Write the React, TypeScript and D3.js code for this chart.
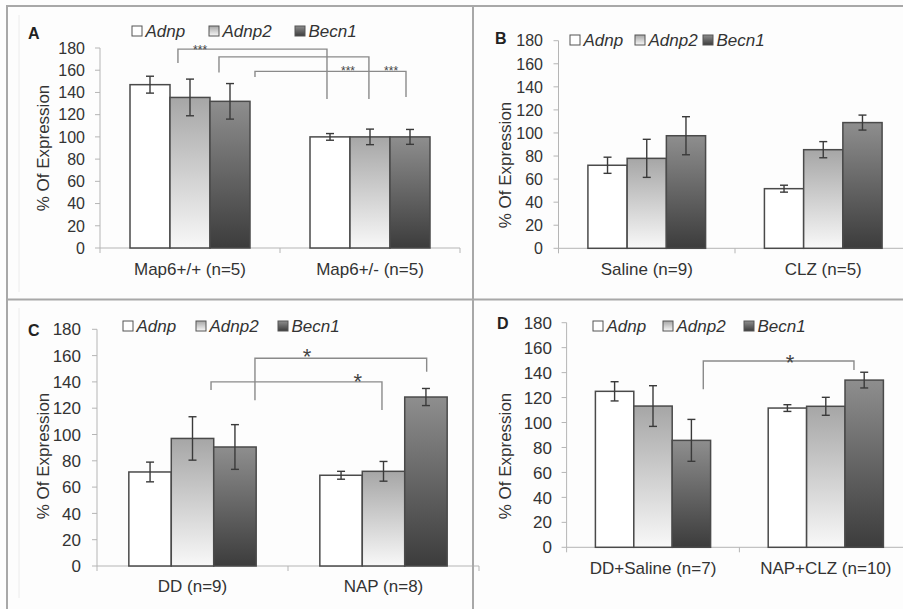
import React from "react";
import * as d3 from "d3";

const SERIES = ["Adnp", "Adnp2", "Becn1"];
const Y_TICKS = [0, 20, 40, 60, 80, 100, 120, 140, 160, 180];

const CATS_A = ["Map6+/+ (n=5)", "Map6+/- (n=5)"];
const MEANS_A = [[147, 135.5, 132], [100, 100, 100]];
const ERRS_A = [[7.6, 16.5, 16], [3, 7, 6.7]];

const CATS_B = ["Saline (n=9)", "CLZ (n=5)"];
const MEANS_B = [[72, 78, 97.6], [51.7, 85.5, 109]];
const ERRS_B = [[7, 16.5, 16.5], [3, 7, 6.5]];

const CATS_C = ["DD (n=9)", "NAP (n=8)"];
const MEANS_C = [[71.5, 97, 90.5], [69, 72, 128.5]];
const ERRS_C = [[7.5, 16.5, 17], [3, 7.5, 6.5]];

const CATS_D = ["DD+Saline (n=7)", "NAP+CLZ (n=10)"];
const MEANS_D = [[125, 113.2, 85.7], [111.6, 113, 134]];
const ERRS_D = [[7.7, 16.3, 16.8], [2.7, 7.2, 6.3]];

// significance brackets: x in category units (0..2), y in % units
const BRACKETS_A = [
  { x1: 0.433, x2: 1.261, top: 179, b1: 166.5, b2: 134 },
  { x1: 0.661, x2: 1.494, top: 172, b1: 158, b2: 134 },
  { x1: 0.861, x2: 1.7, top: 159, b1: 154, b2: 136 },
];
const STARS_A = [
  { x: 0.556, y: 180.5, t: "***" },
  { x: 1.378, y: 161.5, t: "***" },
  { x: 1.617, y: 161.5, t: "***" },
];
const BRACKETS_B: any[] = [];
const STARS_B: any[] = [];
const BRACKETS_C = [
  { x1: 0.827, x2: 1.726, top: 158, b1: 126, b2: 147.8 },
  { x1: 0.597, x2: 1.492, top: 140, b1: 133.8, b2: 118.6 },
];
const STARS_C = [
  { x: 1.1, y: 163, t: "*" },
  { x: 1.366, y: 144.5, t: "*" },
];
const BRACKETS_D = [{ x1: 0.791, x2: 1.663, top: 149.3, b1: 126.6, b2: 142 }];
const STARS_D = [{ x: 1.293, y: 152, t: "*" }];

const FILLS = ["#ffffff", "url(#gAdnp2)", "url(#gBecn1)"];
const TXT = "#333333";
const FONT = "Liberation Sans, Arial, sans-serif";

type Layout = {
  label: string;
  labelX: number;
  labelY: number;
  x0: number;
  catW: number;
  yBottom: number;
  yTop: number;
  tickRight: number;
  tickFont: number;
  titleX: number;
  titleY: number;
  legendY: number;
  legendX: number[];
  catBaseline: number;
  starBig: number;
};

const PANELS = [
  {
    cats: CATS_A, means: MEANS_A, errs: ERRS_A, brackets: BRACKETS_A, stars: STARS_A,
    layout: { label: "A", labelX: 28, labelY: 39, x0: 100, catW: 180, yBottom: 248, yTop: 48, tickRight: 85, tickFont: 16, titleX: 43, titleY: 148, legendY: 31, legendX: [132, 209, 295], catBaseline: 275, starBig: 13 } as Layout,
  },
  {
    cats: CATS_B, means: MEANS_B, errs: ERRS_B, brackets: BRACKETS_B, stars: STARS_B,
    layout: { label: "B", labelX: 495, labelY: 44, x0: 558.5, catW: 176.5, yBottom: 248.3, yTop: 40.7, tickRight: 543, tickFont: 16, titleX: 505, titleY: 165, legendY: 40, legendX: [570, 635, 703], catBaseline: 275, starBig: 22 } as Layout,
  },
  {
    cats: CATS_C, means: MEANS_C, errs: ERRS_C, brackets: BRACKETS_C, stars: STARS_C,
    layout: { label: "C", labelX: 28, labelY: 336, x0: 97, catW: 191, yBottom: 566, yTop: 329.3, tickRight: 81, tickFont: 17, titleX: 43, titleY: 456, legendY: 326, legendX: [123, 196, 278], catBaseline: 592, starBig: 22 } as Layout,
  },
  {
    cats: CATS_D, means: MEANS_D, errs: ERRS_D, brackets: BRACKETS_D, stars: STARS_D,
    layout: { label: "D", labelX: 497, labelY: 329, x0: 566.6, catW: 172.8, yBottom: 547.3, yTop: 322.7, tickRight: 552, tickFont: 17, titleX: 505, titleY: 456, legendY: 326, legendX: [593, 663, 744], catBaseline: 574, starBig: 22 } as Layout,
  },
];

function Panel({ cats, means, errs, brackets, stars, layout }: any) {
  const L: Layout = layout;
  const xEnd = L.x0 + 2 * L.catW;
  const y = d3.scaleLinear().domain([0, 180]).range([L.yBottom, L.yTop]);
  const xc = d3.scaleLinear().domain([0, 2]).range([L.x0, xEnd]);
  const xBand = d3.scaleBand<string>().domain(cats).range([L.x0, xEnd]).paddingInner(1 / 3).paddingOuter(1 / 6);
  const xSer = d3.scaleBand<string>().domain(SERIES).range([0, xBand.bandwidth()]).padding(0);
  const axisColor = "#b5b5b5";
  const bw = xSer.bandwidth();
  return (
    <g fontFamily={FONT}>
      <line x1={L.x0} x2={L.x0} y1={y(0)} y2={y(180)} stroke={axisColor} strokeWidth={1} />
      {Y_TICKS.map((t) => (
        <g key={t}>
          <line x1={L.x0 - 5} x2={L.x0} y1={y(t)} y2={y(t)} stroke={axisColor} />
          <text x={L.tickRight} y={y(t)} dy="0.36em" textAnchor="end" fontSize={L.tickFont} fill={TXT}>
            {t}
          </text>
        </g>
      ))}
      <line x1={L.x0} x2={xEnd} y1={y(0)} y2={y(0)} stroke={axisColor} />
      {[0, 1, 2].map((i) => (
        <line key={i} x1={xc(i)} x2={xc(i)} y1={y(0)} y2={y(0) + 5} stroke={axisColor} />
      ))}
      {cats.map((c: string) => (
        <text key={c} x={(xBand(c) as number) + xBand.bandwidth() / 2} y={L.catBaseline} textAnchor="middle" fontSize={17} fill={TXT}>
          {c}
        </text>
      ))}
      {cats.map((c: string, ci: number) =>
        SERIES.map((s, si) => {
          const bx = (xBand(c) as number) + (xSer(s) as number);
          const v = means[ci][si];
          return (
            <rect key={c + s} x={bx} y={y(v)} width={bw} height={y(0) - y(v)} fill={FILLS[si]} stroke="#4a4a4a" strokeWidth={1.5} />
          );
        })
      )}
      {cats.map((c: string, ci: number) =>
        SERIES.map((s, si) => {
          const cx = (xBand(c) as number) + (xSer(s) as number) + bw / 2;
          const v = means[ci][si];
          const e = errs[ci][si];
          return (
            <g key={"e" + c + s} stroke="#3a3a3a" strokeWidth={1.4}>
              <line x1={cx} x2={cx} y1={y(v + e)} y2={y(v - e)} />
              <line x1={cx - 4} x2={cx + 4} y1={y(v + e)} y2={y(v + e)} />
              <line x1={cx - 4} x2={cx + 4} y1={y(v - e)} y2={y(v - e)} />
            </g>
          );
        })
      )}
      {brackets.map((b: any, i: number) => (
        <path
          key={"b" + i}
          d={`M${xc(b.x1)},${y(b.b1)}V${y(b.top)}H${xc(b.x2)}V${y(b.b2)}`}
          fill="none"
          stroke="#8a8a8a"
          strokeWidth={1.4}
        />
      ))}
      {stars.map((s: any, i: number) => {
        const fs = s.t.length > 1 ? 12 : L.starBig;
        return (
          <text key={"s" + i} x={xc(s.x)} y={y(s.y) + 0.57 * fs} textAnchor="middle" fontSize={fs} fill="#444">
            {s.t}
          </text>
        );
      })}
      {SERIES.map((s, si) => (
        <g key={"l" + s}>
          <rect x={L.legendX[si]} y={L.legendY - 5} width={10} height={10} fill={FILLS[si]} stroke="#555" strokeWidth={1} />
          <text x={L.legendX[si] + 13.5} y={L.legendY} dy="0.36em" fontSize={17} fontStyle="italic" fill={TXT}>
            {s}
          </text>
        </g>
      ))}
      <text x={L.labelX} y={L.labelY} fontSize={16} fontWeight="bold" fill="#222">
        {L.label}
      </text>
      <text transform={`translate(${L.titleX},${L.titleY}) rotate(-90)`} textAnchor="middle" dy="0.36em" fontSize={17} fill={TXT}>
        % Of Expression
      </text>
    </g>
  );
}

export default function App() {
  return (
    <svg width={903} height={609} style={{ position: "absolute", left: 0, top: 0, background: "#fdfdfd" }}>
      <defs>
        <linearGradient id="gAdnp2" x1="0" y1="0" x2="0" y2="1">
          <stop offset="0" stopColor="#a6a6a6" />
          <stop offset="1" stopColor="#f8f8f8" />
        </linearGradient>
        <linearGradient id="gBecn1" x1="0" y1="0" x2="0" y2="1">
          <stop offset="0" stopColor="#8e8e8e" />
          <stop offset="1" stopColor="#3c3c3c" />
        </linearGradient>
      </defs>
      <line x1={19} x2={19} y1={15} y2={292} stroke="#ececec" />
      <line x1={19} x2={19} y1={308} y2={598} stroke="#ececec" />
      {PANELS.map((p, i) => (
        <Panel key={i} {...p} />
      ))}
      <g stroke="#a8a8a8" strokeWidth={2}>
        <line x1={6} x2={903} y1={6} y2={6} />
        <line x1={7} x2={7} y1={5} y2={609} />
        <line x1={473} x2={473} y1={5} y2={609} />
        <line x1={6} x2={903} y1={299.5} y2={299.5} />
      </g>
    </svg>
  );
}
